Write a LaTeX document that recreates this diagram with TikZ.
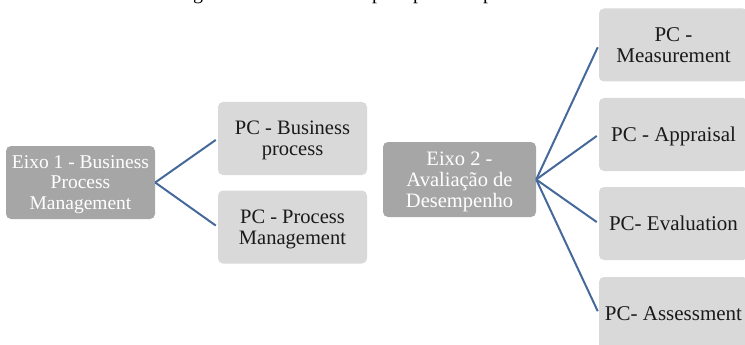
\documentclass[tikz,border=0pt]{standalone}
\usepackage{fontspec}
\setmainfont{Liberation Serif}
\definecolor{axisfill}{HTML}{A6A6A6}
\definecolor{itemfill}{HTML}{D9D9D9}
\definecolor{linkblue}{HTML}{46699C}
\definecolor{itemtext}{HTML}{1A1A1A}
\tikzset{
  axisbox/.style={rounded corners=5pt, fill=axisfill, text=white, align=center,
    inner sep=0pt, text depth=0pt, font=\fontsize{19.5}{20.5}\selectfont},
  itembox/.style={rounded corners=5pt, fill=itemfill, text=itemtext, align=center,
    inner sep=0pt, text depth=0pt, minimum width=149pt, minimum height=73pt,
    font=\fontsize{21}{21}\selectfont},
  leftitem/.style={itembox, font=\fontsize{20.5}{21}\selectfont},
  link/.style={draw=linkblue, line width=2pt, shorten >=2.5pt},
  captionfrag/.style={anchor=base west, inner sep=0pt, text=black,
    font=\fontsize{20}{22}\selectfont}
}
\begin{document}
\begin{tikzpicture}[x=1pt, y=-1pt]
  \useasboundingbox (0,0) rectangle (745,345);
  \clip (0,0) rectangle (745,345);

  % descenders of the caption line above the figure
  \node[captionfrag] (capg)  at (193,0) {g};
  \node[captionfrag] (capp1) at (372,0) {p};
  \node[captionfrag] (capp2) at (413,0) {p};
  \node[captionfrag] (capp3) at (483,0) {p};

  % axis 1
  \node[axisbox, minimum width=149pt, minimum height=73pt] (ax1) at (80.5,182.5)
    {Eixo 1 - Business\\Process\\Management};
  \node[leftitem] (bp) at (292.5,138.5) {PC - Business\\process};
  \node[leftitem] (pm) at (292.5,227) {PC - Process\\Management};

  % axis 2
  \node[axisbox, minimum width=153pt, minimum height=75pt,
        font=\fontsize{20.5}{21}\selectfont] (ax2) at (459.5,179.5)
    {Eixo 2 -\\Avaliação de\\Desempenho};
  \node[itembox] (me) at (673.5,45)    {PC -\\Measurement};
  \node[itembox] (ap) at (673.5,134.5) {PC - Appraisal};
  \node[itembox] (ev) at (673.5,223.5) {PC- Evaluation};
  \node[itembox] (as) at (673.5,313.5) {PC- Assessment};

  % connectors
  \draw[link] (ax1.east) -- (bp.west);
  \draw[link] (ax1.east) -- (pm.west);
  \draw[link] (ax2.east) -- (me.west);
  \draw[link] (ax2.east) -- (ap.west);
  \draw[link] (ax2.east) -- (ev.west);
  \draw[link] (ax2.east) -- (as.west);
\end{tikzpicture}
\end{document}
